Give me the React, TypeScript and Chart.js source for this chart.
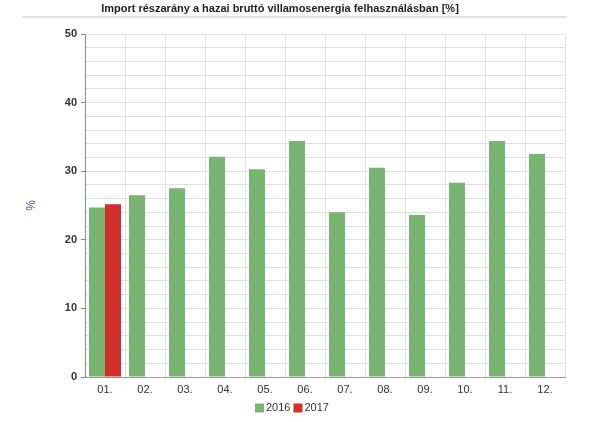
import React, { useEffect, useRef } from "react";
import { Chart, registerables } from "chart.js";

Chart.register(...registerables);

const TITLE = "Import részarány a hazai bruttó villamosenergia felhasználásban [%]";
const Y_TITLE = "%";
const categories = ["01.", "02.", "03.", "04.", "05.", "06.", "07.", "08.", "09.", "10.", "11.", "12."];
const series2016 = [24.7, 26.5, 27.5, 32.1, 30.3, 34.4, 24.0, 30.5, 23.6, 28.3, 34.4, 32.5];
const series2017 = [25.2, null, null, null, null, null, null, null, null, null, null, null];
const seriesNames = ["2016", "2017"];
const seriesColors = ["#77b571", "#d12f2b"];
const yMin = 0;
const yMax = 50;
const yMajorStep = 10;
const yMinorStep = 2;

const FONT = '"Liberation Sans", Arial, Helvetica, sans-serif';

const overlay = {
  id: "overlay",
  afterDraw(chart: any) {
    const ctx = chart.ctx as CanvasRenderingContext2D;
    ctx.save();
    // title
    let size = 12;
    ctx.font = `bold ${size}px ${FONT}`;
    const w = ctx.measureText(TITLE).width;
    size = Math.round(((size * 360) / w) * 2) / 2;
    ctx.font = `bold ${size}px ${FONT}`;
    ctx.fillStyle = "#1e1e1e";
    ctx.textAlign = "center";
    ctx.textBaseline = "middle";
    ctx.fillText(TITLE, 280, 9);
    // separator line
    ctx.strokeStyle = "#e3e3e3";
    ctx.lineWidth = 2;
    ctx.beginPath();
    ctx.moveTo(22, 17);
    ctx.lineTo(567, 17);
    ctx.stroke();
    // y axis title
    ctx.save();
    ctx.translate(32, (chart.chartArea.top + chart.chartArea.bottom) / 2);
    ctx.rotate(-Math.PI / 2);
    ctx.font = `12px ${FONT}`;
    ctx.fillStyle = "#4f5b8c";
    ctx.fillText(Y_TITLE, 0, 0);
    ctx.restore();
    // legend
    ctx.font = `11px ${FONT}`;
    ctx.textAlign = "left";
    let x = 255;
    const yc = 408;
    chart.data.datasets.forEach((ds: any) => {
      ctx.fillStyle = ds.backgroundColor;
      ctx.fillRect(x, yc - 4.5, 9, 9);
      ctx.fillStyle = "#333";
      ctx.fillText(ds.label, x + 11, yc);
      x += 11 + ctx.measureText(ds.label).width + 3;
    });
    ctx.restore();
  },
};

export default function App() {
  const ref = useRef<HTMLCanvasElement | null>(null);
  useEffect(() => {
    if (!ref.current) return;
    const chart = new Chart(ref.current, {
      type: "bar",
      data: {
        labels: categories,
        datasets: [
          { label: seriesNames[0], data: series2016, backgroundColor: seriesColors[0], categoryPercentage: 0.8, barPercentage: 1.0 },
          { label: seriesNames[1], data: series2017 as any, backgroundColor: seriesColors[1], categoryPercentage: 0.8, barPercentage: 1.0 },
        ],
      },
      options: {
        animation: false,
        responsive: true,
        maintainAspectRatio: false,
        layout: { padding: { top: 34, left: 0, right: 47, bottom: 0 } },
        plugins: {
          legend: { display: false },
          title: { display: false },
          tooltip: { enabled: false },
        },
        scales: {
          x: {
            afterFit: (s: any) => { s.height = 45; },
            grid: { color: "#dedee4", drawTicks: false, offset: true },
            border: { color: "#9a9a9a" },
            ticks: { color: "#333", font: { family: FONT, size: 11 }, padding: 6 },
          },
          y: {
            min: yMin,
            max: yMax,
            afterFit: (s: any) => { s.width = 85; },
            grid: {
              color: "#dedee4",
              tickLength: 4,
              tickColor: (c: any) => (c.tick && c.tick.value % yMajorStep === 0 ? "#888" : "rgba(0,0,0,0)"),
            },
            border: { color: "#878aa0" },
            ticks: {
              stepSize: yMinorStep,
              autoSkip: false,
              maxTicksLimit: 100,
              padding: 4,
              color: "#333",
              font: { family: FONT, size: 11, weight: "bold" },
              callback: (v: any) => (Number(v) % yMajorStep === 0 ? String(v) : ""),
            },
          },
        },
      },
      plugins: [overlay],
    });
    return () => chart.destroy();
  }, []);
  return (
    <div style={{ position: "absolute", left: 0, top: 0, width: 612, height: 422 }}>
      <canvas ref={ref} />
    </div>
  );
}
